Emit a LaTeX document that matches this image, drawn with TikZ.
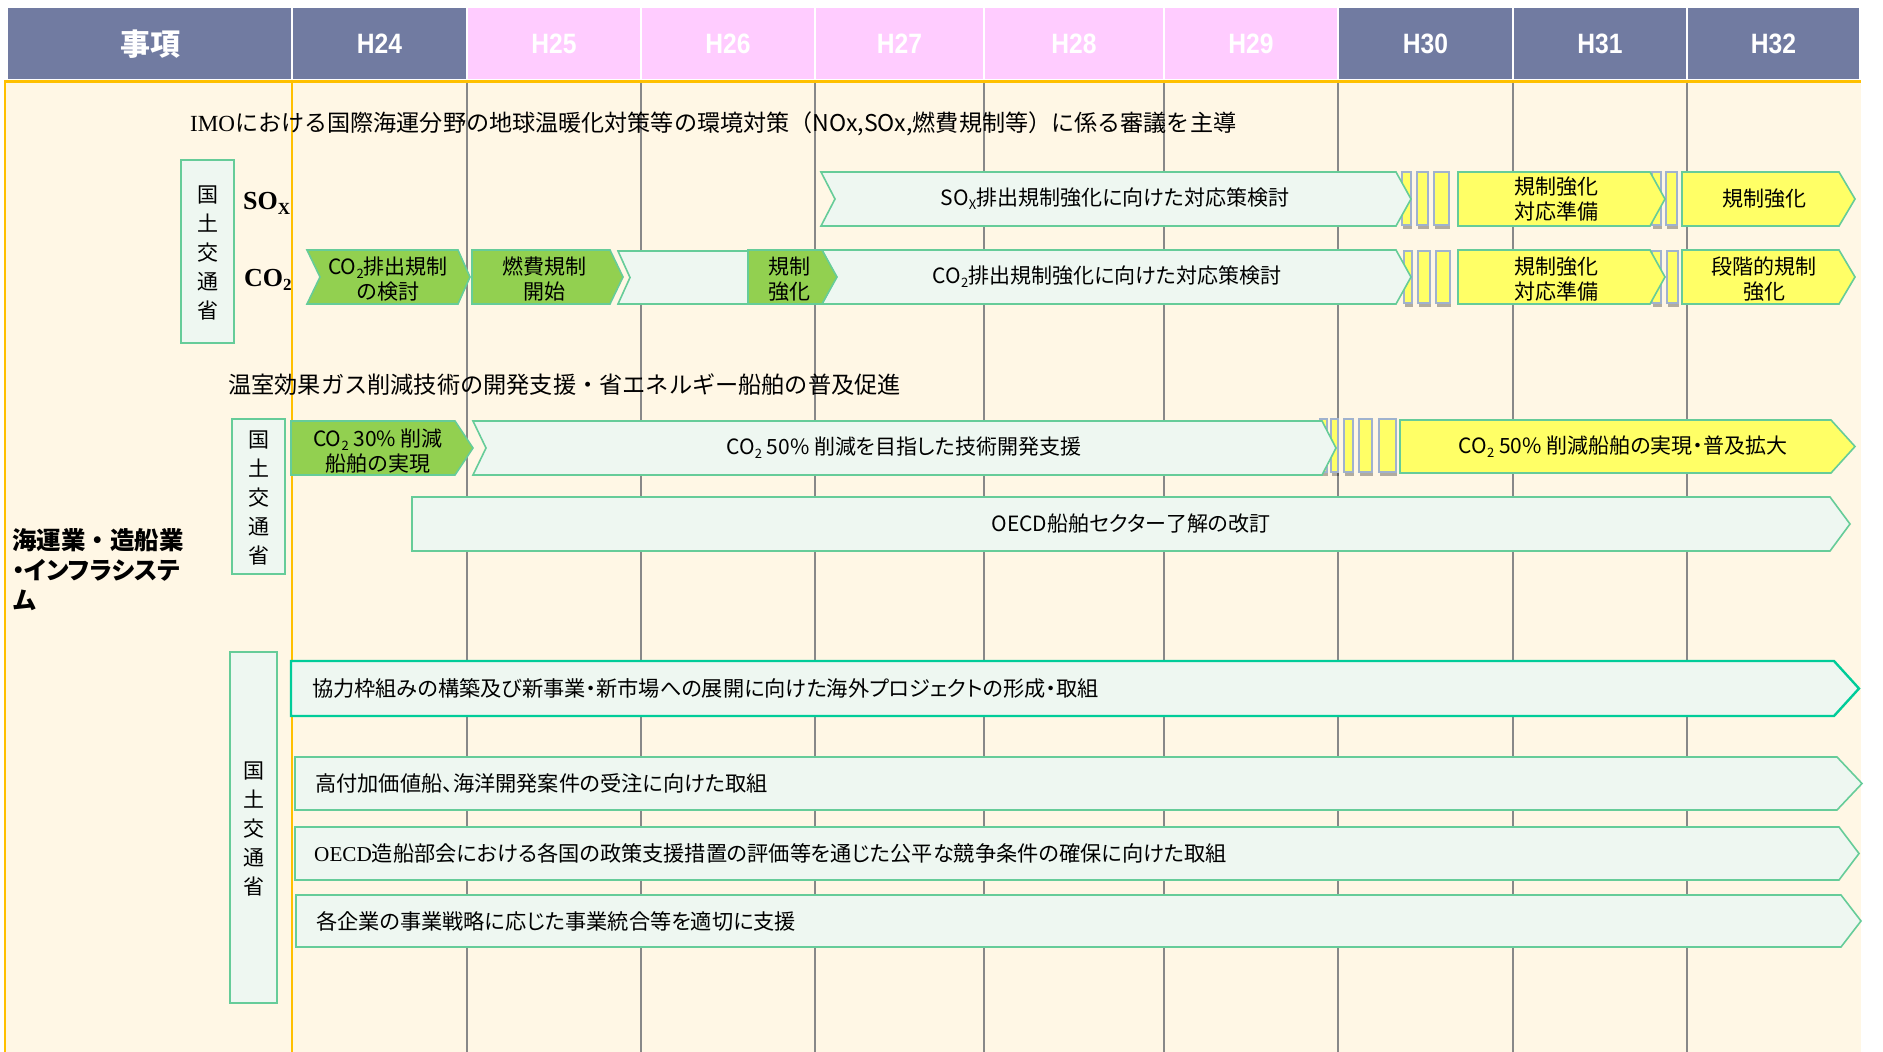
\documentclass[tikz,border=0pt]{standalone}
\usepackage{fontspec}
\setmainfont{Noto Sans CJK JP}[RawFeature={+palt}]
\newfontfamily\jpwide{Noto Sans CJK JP}
\newfontfamily\hdrfont{Liberation Sans}[FakeStretch=0.88]
\newfontfamily\serfont{Liberation Serif}
\usetikzlibrary{shadows}
\definecolor{hdark}{RGB}{113,123,161}
\definecolor{hpink}{RGB}{255,204,255}
\definecolor{cream}{RGB}{255,247,229}
\definecolor{orng}{RGB}{255,192,0}
\definecolor{gridg}{RGB}{136,136,136}
\definecolor{mint}{RGB}{238,247,241}
\definecolor{mintb}{RGB}{102,204,153}
\definecolor{tealb}{RGB}{0,204,153}
\definecolor{lgreen}{RGB}{146,208,80}
\definecolor{yel}{RGB}{255,255,102}
\definecolor{barb}{RGB}{160,178,206}
\newcommand\sbs[1]{\raisebox{-0.35ex}{\fontsize{13}{13}\selectfont #1}}
% shape: style, x1, x2, ytop, ybot, notch, tip
\newcommand\shp[7]{\path[#1] (#2,#4) -- ({#3-#7},#4) -- (#3,{(#4+#5)/2}) -- ({#3-#7},#5) -- (#2,#5) -- ({#2+#6},{(#4+#5)/2}) -- cycle;}
\newcommand\brk[4]{\path[brkbar] (#1,#3) rectangle (#2,#4);}
\begin{document}
\begin{tikzpicture}[x=1pt,y=-1pt,
  hcell/.style={draw=white,line width=1.5pt},
  hdrtxt/.style={text=white,font=\hdrfont\bfseries\fontsize{28}{30}\selectfont,inner sep=0pt},
  mintbox/.style={fill=mint,draw=mintb,line width=1.6pt},
  greenbox/.style={fill=lgreen,draw=mintb,line width=1.6pt},
  yelbox/.style={fill=yel,draw=mintb,line width=1.6pt},
  tealbox/.style={fill=mint,draw=tealb,line width=2.4pt},
  brkbar/.style={fill=yel,draw=barb,line width=1.5pt,drop shadow={shadow xshift=1pt,shadow yshift=-4pt,opacity=0.3,fill=black}},
  lbl/.style={font=\fontsize{21}{25}\selectfont,align=center,inner sep=0pt},
  lblw/.style={font=\fontsize{21.2}{25}\selectfont,anchor=west,inner sep=0pt},
  vlabel/.style={font=\jpwide\fontsize{21}{29}\selectfont,align=center,inner sep=0pt},
  gridline/.style={draw=gridg,line width=1.1pt}]
\useasboundingbox (0,0) rectangle (1883,1052);
\fill[white] (0,0) rectangle (1883,1052);
% body background
\fill[cream] (5,81) rectangle (1861,1052);
\foreach \x in {467,641,815,984,1164,1338,1513,1687} \draw[gridline] (\x,82) -- (\x,1052);
% header
\foreach \a/\b/\c [count=\i] in {7/292/hdark,292/467/hdark,467/641/hpink,641/815/hpink,815/984/hpink,984/1164/hpink,1164/1338/hpink,1338/1513/hdark,1513/1687/hdark,1687/1860/hdark}
  \path[hcell,fill=\c] (\a,7) rectangle (\b,80);
\node[text=white,font=\jpwide\bfseries\fontsize{30}{32}\selectfont,inner sep=0pt] (h0) at (150,44) {事項};
\foreach \xc/\t [count=\i] in {379.5/H24,554/H25,728/H26,899.5/H27,1074/H28,1251/H29,1425.5/H30,1600/H31,1773.5/H32}
  \node[hdrtxt] (hy\i) at (\xc,44) {\t};
% orange lines
\draw[orng,line width=3pt] (4,81) -- (1861,81);
\draw[orng,line width=2.2pt] (5,80) -- (5,1052);
\draw[orng,line width=2pt] (292,80) -- (292,1052);
% title line 1
\node[anchor=west,font=\jpwide\fontsize{23.1}{26}\selectfont,inner sep=0pt] (imo) at (190,124) {{\serfont IMO}における国際海運分野の地球温暖化対策等の環境対策（NOx,SOx,燃費規制等）に係る審議を主導};
% MLIT box 1
\path[mintbox] (181,160) rectangle (234,343);
\node[vlabel] (mlit1) at (207.5,253) {国\\土\\交\\通\\省};
\node[anchor=base west,font=\serfont\bfseries\fontsize{26}{26}\selectfont,inner sep=0pt] (soxl) at (243,209) {SO\raisebox{-5pt}{\fontsize{17}{17}\selectfont X}};
\node[anchor=base west,font=\serfont\bfseries\fontsize{26}{26}\selectfont,inner sep=0pt] (co2l) at (244,286) {CO\raisebox{-4pt}{\fontsize{17}{17}\selectfont 2}};
% SOx row
\brk{1402}{1411}{172}{225}\brk{1417}{1428}{172}{225}\brk{1434}{1449}{172}{225}
\brk{1652}{1661}{172}{225}\brk{1666}{1677}{172}{225}
\shp{mintbox}{821}{1411}{172}{226}{14}{15}
\shp{yelbox}{1458}{1665}{172}{226}{0}{15}
\shp{yelbox}{1682}{1855}{172}{226}{0}{16}
\node[lbl] (tsox) at (1115,199) {SO\sbs{X}排出規制強化に向けた対応策検討};
\node[lbl] (tsoxprep) at (1556,199) {規制強化\\対応準備};
\node[lbl] (tsoxreg) at (1764,199) {規制強化};
% CO2 row
\brk{1404}{1412}{251}{303}\brk{1418}{1430}{251}{303}\brk{1436}{1450}{251}{303}
\brk{1652}{1661}{251}{303}\brk{1667}{1678}{251}{303}
\shp{greenbox}{307}{470}{250}{304}{13}{12}
\shp{greenbox}{472}{623}{250}{304}{0}{13}
\shp{mintbox}{618}{770}{251}{304}{12}{14}
\shp{mintbox}{822}{1411}{250}{304}{14}{15}
\shp{greenbox}{748}{837}{250}{304}{0}{15}
\shp{yelbox}{1458}{1665}{250}{304}{0}{15}
\shp{yelbox}{1682}{1855}{250}{304}{0}{16}
\node[lbl] (tco2a) at (388,279) {CO\sbs{2}排出規制\\の検討};
\node[lbl] (tfuel) at (544,279) {燃費規制\\開始};
\node[lbl] (treg) at (789,279) {規制\\強化};
\node[lbl] (tco2) at (1107,277) {CO\sbs{2}排出規制強化に向けた対応策検討};
\node[lbl] (tco2prep) at (1556,279) {規制強化\\対応準備};
\node[lbl] (tco2step) at (1764,279) {段階的規制\\強化};
% title line 2
\node[anchor=west,font=\jpwide\fontsize{23.2}{26}\selectfont,inner sep=0pt] (ghg) at (228,385) {温室効果ガス削減技術の開発支援・省エネルギー船舶の普及促進};
% MLIT box 2
\path[mintbox] (232,419) rectangle (285,574);
\node[vlabel] (mlit2) at (258.5,498) {国\\土\\交\\通\\省};
% row 3
\brk{1320}{1327}{419}{472}\brk{1331}{1338}{419}{472}\brk{1344}{1353}{419}{472}\brk{1359}{1372}{419}{472}\brk{1379}{1396}{419}{472}
\shp{greenbox}{291}{473}{421}{475}{0}{18}
\shp{mintbox}{473}{1336}{421}{475}{13}{14}
\shp{yelbox}{1400}{1855}{420}{473}{0}{24}
\node[lbl] (tr30) at (378,451) {CO\sbs{2} 30\% 削減\\船舶の実現};
\node[lbl] (tr50) at (904,448) {CO\sbs{2} 50\% 削減を目指した技術開発支援};
\node[lbl] (treal) at (1623,447) {CO\sbs{2} 50\% 削減船舶の実現・普及拡大};
% row 4
\shp{mintbox}{412}{1850}{497}{551}{0}{20}
\node[lbl] (toecd) at (1131,524) {OECD船舶セクター了解の改訂};
% left category
\node[anchor=west,align=left,font=\jpwide\bfseries\fontsize{24.5}{30}\selectfont,inner sep=0pt] (cat) at (12,570) {海運業・造船業\\{\addfontfeature{RawFeature=+palt}・インフラシステ}\\ム};
% MLIT box 3
\path[mintbox] (230,652) rectangle (277,1003);
\node[vlabel] (mlit3) at (253.5,829) {国\\土\\交\\通\\省};
% bottom arrows
\shp{tealbox}{291}{1859}{661}{716}{0}{25}
\shp{mintbox}{295}{1862}{757}{810}{0}{25}
\shp{mintbox}{295}{1859}{827}{880}{0}{20}
\shp{mintbox}{296}{1861}{895}{947}{0}{20}
\node[lblw] (tcoop) at (312,688) {協力枠組みの構築及び新事業・新市場への展開に向けた海外プロジェクトの形成・取組};
\node[lblw] (thigh) at (315,783) {高付加価値船、海洋開発案件の受注に向けた取組};
\node[lblw] (tfair) at (314,853) {{\serfont OECD}造船部会における各国の政策支援措置の評価等を通じた公平な競争条件の確保に向けた取組};
\node[lblw] (tmerge) at (316,921) {各企業の事業戦略に応じた事業統合等を適切に支援};
\end{tikzpicture}
\end{document}
